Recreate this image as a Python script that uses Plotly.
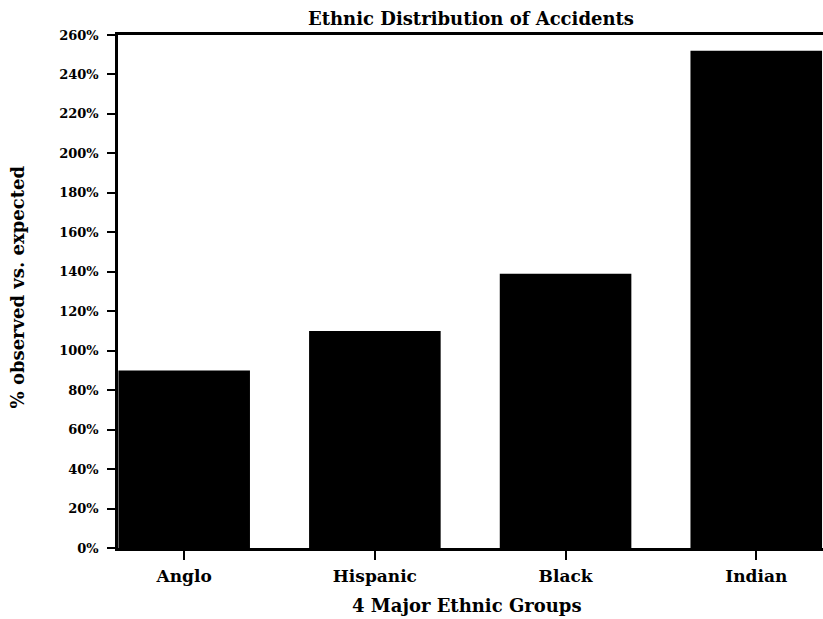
import plotly.graph_objects as go

categories = ["Anglo", "Hispanic", "Black", "Indian"]
values = [90, 110, 139, 252]
y_ticks = list(range(0, 261, 20))
y_tick_labels = [f"{v}%" for v in y_ticks]

FONT = "DejaVu Serif"
BOLD = dict(family=FONT, color="black", weight="bold")

# figure is a bit wider than the window so the right frame edge falls off-screen
W, H = 832, 619
ML, MT, MB, MR = 118, 35, 71, 0
PW, PH = W - ML - MR, H - MT - MB
BOTTOM = H - MB
X0 = -0.347
X1 = X0 + PW / 191.5

fig = go.Figure(go.Bar(
    x=list(range(len(categories))),
    y=values,
    marker=dict(color="black", line=dict(width=0)),
    width=0.69,
))

fig.update_layout(
    width=W, height=H,
    margin=dict(l=ML, r=MR, t=MT, b=MB, pad=0),
    paper_bgcolor="white", plot_bgcolor="white",
    showlegend=False,
    font=dict(BOLD, size=13),
    annotations=[
        dict(text="Ethnic Distribution of Accidents", xref="paper", yref="paper",
             x=(472 - ML) / PW, y=(BOTTOM - 18.5) / PH, xanchor="center", yanchor="middle",
             showarrow=False, font=dict(BOLD, size=18)),
        dict(text="4 Major Ethnic Groups", xref="paper", yref="paper",
             x=(468 - ML) / PW, y=(BOTTOM - 605) / PH, xanchor="center", yanchor="middle",
             showarrow=False, font=dict(BOLD, size=18)),
        dict(text="% observed vs. expected", xref="paper", yref="paper",
             x=(17 - ML) / PW, y=(BOTTOM - 287) / PH, xanchor="center", yanchor="middle",
             textangle=-90, showarrow=False, font=dict(BOLD, size=18)),
    ],
)

fig.update_xaxes(
    range=[X0, X1],
    tickmode="array", tickvals=list(range(len(categories))), ticktext=categories,
    ticks="outside", ticklen=9, tickwidth=1.5, tickcolor="black",
    ticklabelstandoff=2,
    showline=True, linecolor="black", linewidth=2.5, mirror=True,
    showgrid=False, zeroline=False,
    tickfont=dict(BOLD, size=17),
)

fig.update_yaxes(
    range=[0, 260],
    tickmode="array", tickvals=y_ticks, ticktext=y_tick_labels,
    ticks="outside", ticklen=8, tickwidth=2, tickcolor="black",
    ticklabelstandoff=6,
    showline=True, linecolor="black", linewidth=2.5, mirror=True,
    showgrid=False, zeroline=False,
    tickfont=dict(BOLD, size=13),
)

fig.write_html(
    "out.html",
    config={"displayModeBar": False},
    post_script="document.body.style.margin='0';document.body.style.overflow='hidden';",
)
